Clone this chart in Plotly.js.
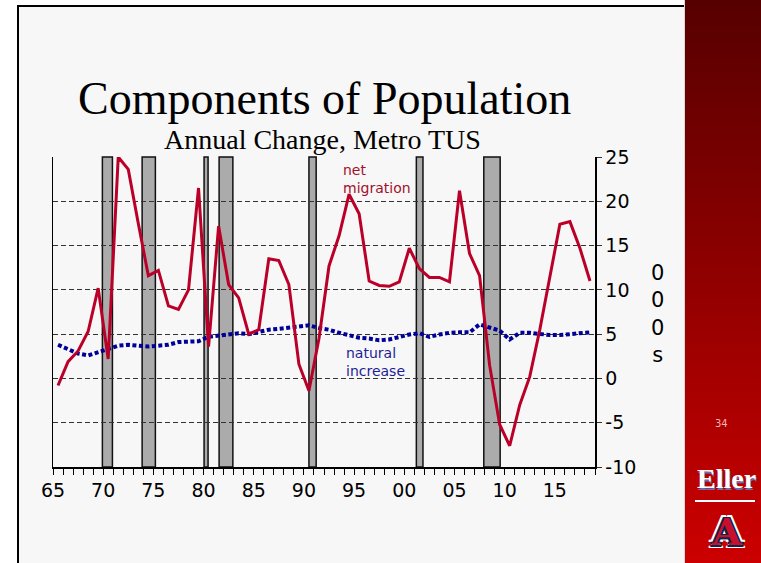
<!DOCTYPE html>
<html><head><meta charset="utf-8">
<script src="https://cdn.plot.ly/plotly-3.0.1.min.js"></script>
<style>
html,body{margin:0;padding:0;background:#fff;}
#slide{position:relative;width:761px;height:563px;overflow:hidden;background:#fff;}
#bg{position:absolute;left:17px;top:5px;width:667px;height:558px;background:#f7f7f7;border-left:2px solid #000;border-top:2px solid #000;box-sizing:border-box;}
#panel{position:absolute;left:684px;top:0;width:77px;height:563px;background:linear-gradient(to bottom,#560000,#cc0000);border-left:1px solid #d8d8d8;box-sizing:border-box;}
#chart{position:absolute;left:0;top:0;width:761px;height:563px;}
</style></head>
<body><div id="slide"><div id="bg"></div><div id="panel"></div><div id="chart"></div></div>
<script>
// Annual components of population change, Metro Tucson (thousands)
const years = [1965,1966,1967,1968,1969,1970,1971,1972,1973,1974,1975,1976,1977,1978,1979,
  1980,1981,1982,1983,1984,1985,1986,1987,1988,1989,1990,1991,1992,1993,1994,1995,1996,1997,
  1998,1999,2000,2001,2002,2003,2004,2005,2006,2007,2008,2009,2010,2011,2012,2013,2014,2015,
  2016,2017,2018];
const netMigration = [-0.8,1.9,3.1,5.3,10.2,2.2,25.0,23.6,17.5,11.6,12.2,8.2,7.8,10.0,21.5,
  3.6,17.2,10.6,9.1,5.0,5.5,13.5,13.3,10.6,1.6,-1.4,4.5,12.7,16.1,20.8,18.6,11.0,10.5,
  10.4,10.9,14.7,12.4,11.4,11.4,10.9,21.2,14.1,11.6,1.5,-5.2,-7.6,-3.0,0.2,5.5,11.5,17.4,
  17.7,14.7,11.0];
const naturalIncrease = [3.8,3.3,2.8,2.6,3.0,3.3,3.7,3.8,3.7,3.6,3.7,3.8,4.1,4.1,4.2,
  4.7,4.8,4.9,5.1,5.0,5.3,5.5,5.6,5.75,5.9,6.0,5.7,5.5,5.15,4.85,4.6,4.5,4.3,
  4.4,4.7,4.96,5.1,4.7,4.96,5.15,5.2,5.2,6.1,5.8,5.4,4.4,5.15,5.15,5.0,4.9,4.9,
  5.0,5.1,5.2];
// Recession periods (decimal years)
const recessionStart = [1969.92,1973.88,1980.05,1981.55,1990.5,2001.2,2007.92];
const recessionEnd   = [1970.92,1975.2,1980.45,1982.92,1991.22,2001.86,2009.55];
// Tick labels
const tickYears  = [1965,1970,1975,1980,1985,1990,1995,2000,2005,2010,2015];
const tickLabels = ['65','70','75','80','85','90','95','00','05','10','15'];
const yTickVals   = [-10,-5,0,5,10,15,20,25];
const yTickLabels = ['-10','-5','0','5','10','15','20','25'];
const sideLabel = ['0','0','0','s'];

const midYear = years.map(y => y + 0.5); // annual values plotted mid-year

const traces = [
  {x: midYear, y: naturalIncrease, type: 'scatter', mode: 'lines', name: 'natural increase',
   line: {color: '#000099', width: 4, dash: '4px,2.5px'}, hoverinfo: 'skip'},
  {x: midYear, y: netMigration, type: 'scatter', mode: 'lines', name: 'net migration',
   line: {color: '#BA0028', width: 3}, hoverinfo: 'skip'}
];

const shapes = recessionStart.map((s, i) => ({
  type: 'rect', xref: 'x', yref: 'paper', x0: s, x1: recessionEnd[i], y0: 0, y1: 1,
  fillcolor: '#ABABAB', line: {color: '#111', width: 1.5}, layer: 'between'
}));
shapes.push({type: 'line', xref: 'paper', yref: 'paper', x0: 1.1845, x1: 1.2952, y0: -0.1097, y1: -0.1097,
  line: {color: '#fff', width: 2}});

const annotations = [
  {text: 'Components of Population', xref: 'paper', yref: 'paper', x: 0.501, y: 1.1887,
   xanchor: 'center', yanchor: 'middle', showarrow: false,
   font: {family: 'Liberation Serif', size: 46, color: '#000'}},
  {text: 'Annual Change, Metro TUS', xref: 'paper', yref: 'paper', x: 0.497, y: 1.0565,
   xanchor: 'center', yanchor: 'middle', showarrow: false,
   font: {family: 'Liberation Serif', size: 28, color: '#000'}},
  {text: 'net<br>migration', xref: 'paper', yref: 'paper', x: 0.531, y: 0.929,
   xanchor: 'left', yanchor: 'middle', align: 'left', showarrow: false,
   font: {family: 'DejaVu Sans', size: 14, color: '#A3102A'}},
  {text: 'natural<br>increase', xref: 'paper', yref: 'paper', x: 0.537, y: 0.339,
   xanchor: 'left', yanchor: 'middle', align: 'left', showarrow: false,
   font: {family: 'DejaVu Sans', size: 14, color: '#1E1E96'}},
  {text: sideLabel.join('<br>'), xref: 'paper', yref: 'paper', x: 1.116, y: 0.4935,
   xanchor: 'center', yanchor: 'middle', align: 'center', showarrow: false,
   font: {family: 'DejaVu Sans', size: 21, color: '#000'}},
  {text: '34', xref: 'paper', yref: 'paper', x: 1.233, y: 0.140,
   xanchor: 'center', yanchor: 'middle', showarrow: false,
   font: {family: 'DejaVu Sans', size: 10, color: '#F4B4B4'}},
  {text: '<b>Eller</b>', xref: 'paper', yref: 'paper', x: 1.2417, y: -0.0355,
   xanchor: 'center', yanchor: 'middle', showarrow: false,
   font: {family: 'Liberation Serif', size: 28, color: '#fff', shadow: '1px 2px 0 #6870b0'}},
  {text: '<b>A</b>', xref: 'paper', yref: 'paper', x: 1.2435, y: -0.2065,
   xanchor: 'center', yanchor: 'middle', showarrow: false,
   font: {family: 'DejaVu Serif', size: 38, color: '#C8102E',
     shadow: '-1.5px -1.5px 0 #0c234b, 1.5px -1.5px 0 #0c234b, -1.5px 1.5px 0 #0c234b, 1.5px 1.5px 0 #0c234b, -3px -3px 0 #fff, 3px -3px 0 #fff, -3px 3px 0 #fff, 3px 3px 0 #fff'}}
];

const layout = {
  width: 761, height: 563,
  margin: {l: 53, r: 166, t: 157, b: 96},
  paper_bgcolor: 'rgba(0,0,0,0)',
  plot_bgcolor: 'rgba(0,0,0,0)',
  showlegend: false,
  font: {family: 'DejaVu Sans', color: '#000', size: 19},
  xaxis: {
    range: [1965, 2019], tickmode: 'array', tickvals: tickYears, ticktext: tickLabels,
    ticks: 'outside', ticklen: 6, tickwidth: 1, tickcolor: '#000',
    showline: true, linecolor: '#000', linewidth: 1.5,
    showgrid: false, zeroline: false,
    minor: {ticks: 'outside', ticklen: 6, tickwidth: 1, tickcolor: '#000', dtick: 1, tick0: 1965, showgrid: false},
    tickfont: {size: 19, color: '#000'}
  },
  yaxis: {
    side: 'right', range: [-10, 25], tickmode: 'array', tickvals: yTickVals, ticktext: yTickLabels,
    ticks: 'outside', ticklen: 5, tickwidth: 1, tickcolor: '#333',
    showline: true, mirror: true, linecolor: '#000', linewidth: 1.5,
    showgrid: true, gridcolor: '#333', gridwidth: 1, griddash: '5px,3px',
    zeroline: false, tickfont: {size: 19, color: '#000'}
  },
  shapes: shapes,
  annotations: annotations
};

Plotly.newPlot('chart', traces, layout, {staticPlot: true, displayModeBar: false});
</script></body></html>
